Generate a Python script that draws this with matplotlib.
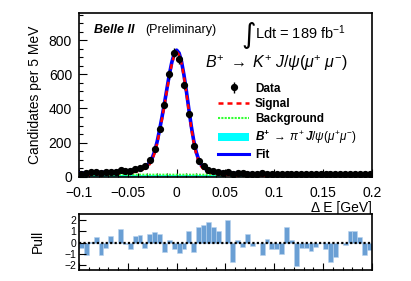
import numpy as np
import matplotlib
matplotlib.use("Agg")
import matplotlib.pyplot as plt
from matplotlib.ticker import MultipleLocator
from matplotlib.lines import Line2D
from matplotlib.patches import Patch

plt.rcParams['font.family'] = ['Liberation Sans', 'DejaVu Sans']
plt.rcParams['mathtext.fontset'] = 'custom'
plt.rcParams['mathtext.rm'] = 'Liberation Sans'
plt.rcParams['mathtext.it'] = 'Liberation Sans:italic'
plt.rcParams['mathtext.bf'] = 'Liberation Sans:bold:italic'

# ---------------- data ----------------
bin_edges_lo = -0.1
bin_width = 0.005
n_bins = 60
counts = [18, 22, 25, 28, 24, 28, 30, 29, 38, 34,
          33, 44, 52, 62, 98, 165, 280, 422, 600, 728,
          688, 535, 365, 178, 90, 60, 40, 32, 28, 24,
          26, 18, 20, 19, 17, 18, 16, 19, 17, 16,
          15, 18, 17, 16, 14, 17, 16, 15, 17, 16,
          15, 14, 16, 17, 15, 16, 18, 17, 14, 15]

fit_x = [-0.1, -0.09, -0.08, -0.07, -0.06, -0.05, -0.045, -0.04, -0.035, -0.03,
         -0.0275, -0.025, -0.0225, -0.02, -0.0175, -0.015, -0.0125, -0.01, -0.0075,
         -0.005, -0.0025, 0.0, 0.0025, 0.005, 0.0075, 0.01, 0.0125, 0.015, 0.0175,
         0.02, 0.0225, 0.025, 0.0275, 0.03, 0.035, 0.04, 0.05, 0.06, 0.08, 0.1,
         0.15, 0.2]
fit_y = [20, 22, 24, 27, 30, 34, 37, 42, 52, 68,
         85, 110, 150, 205, 275, 350, 430, 515, 600,
         670, 722, 742, 725, 675, 595, 500, 395, 295, 210,
         145, 100, 72, 55, 44, 33, 27, 22, 19, 17, 16,
         15, 14]
sig_y = [9, 11, 13, 16, 19, 23, 26, 31, 41, 57,
         74, 99, 139, 194, 264, 339, 419, 504, 589,
         659, 711, 731, 714, 664, 584, 489, 384, 284, 199,
         134, 89, 61, 44, 33, 22, 16, 11, 8, 6, 5,
         3, 2]
bkg_x = [-0.1, 0.2]
bkg_y = [12, 11]
pi_x = [-0.1, 0.2]
pi_y = [9, 9]

pulls = [-0.5, -1.1, 0.05, 0.5, -1.1, -0.45, 0.6, 0.0, 1.25, -0.15,
         -0.6, 0.6, 0.65, -0.45, 0.8, 0.95, 0.75, -0.85, 0.2, -0.6,
         -0.95, -0.6, 1.0, -0.8, 1.35, 1.55, 1.8, 1.4, 1.05, 0.0,
         2.0, -1.75, 0.2, -0.35, 0.8, -0.3, -0.05, -1.1, 0.3, -0.6,
         -0.55, -1.05, 1.35, 0.2, -2.05, -0.5, -0.5, -0.75, -0.4, 0.0,
         -0.6, -1.75, -1.3, 0.0, -0.2, 1.0, 1.0, 0.5, -1.1, -0.7]

centers = bin_edges_lo + bin_width * (np.arange(n_bins) + 0.5)
counts = np.array(counts, float)

# ---------------- figure ----------------
fig = plt.figure(figsize=(4.11, 2.81), dpi=100)
ax = fig.add_axes([0.1922, 0.3712, 0.9051 - 0.1922, 0.9537 - 0.3712])
axp = fig.add_axes([0.1922, 0.0391, 0.9051 - 0.1922, 0.2402 - 0.0391])

ax.fill_between(pi_x, 0, pi_y, color='#00ffff', lw=0, zorder=1)
ax.plot(bkg_x, bkg_y, color='#33ff33', ls=(0, (1, 0.6)), lw=1.5, zorder=2)
ax.plot(fit_x, fit_y, color='#0000ff', lw=2.6, zorder=3)
ax.plot(fit_x, sig_y, color='#ff0000', lw=1.8, ls=(0, (2, 1.6)), zorder=4)
eb = ax.errorbar(centers, counts, yerr=np.sqrt(counts), fmt='o', color='black',
                 ms=4.2, elinewidth=1, capsize=0, zorder=5)

ax.set_xlim(-0.1, 0.2)
ax.set_ylim(0, 960)
ax.xaxis.set_minor_locator(MultipleLocator(0.01))
ax.yaxis.set_major_locator(MultipleLocator(200))
ax.yaxis.set_minor_locator(MultipleLocator(50))
ax.set_xticks([-0.1, -0.05, 0, 0.05, 0.1, 0.15, 0.2])
ax.set_xticklabels(['\u22120.1', '\u22120.05', '0', '0.05', '0.1', '0.15', '0.2'])
ax.tick_params(which='both', direction='in', top=False, right=False, labelsize=10)
ax.tick_params(which='major', length=6, width=0.8)
ax.tick_params(which='minor', length=3, width=0.8)
ax.tick_params(axis='x', pad=6.5)
ax.tick_params(axis='y', pad=5)
for s in ax.spines.values():
    s.set_linewidth(1.2)
ax.set_ylabel('Candidates per 5 MeV', fontsize=10, labelpad=5)
ax.text(1.0, -0.15, '\u0394 E [GeV]', transform=ax.transAxes, ha='right', va='top', fontsize=10)

ax.text(0.05, 0.878, 'Belle II', transform=ax.transAxes, fontsize=9,
        fontweight='bold', fontstyle='italic', ha='left', va='baseline')
ax.text(0.225, 0.878, '(Preliminary)', transform=ax.transAxes, fontsize=9,
        ha='left', va='baseline')
ax.text(0.555, 0.865, '\u222b', transform=ax.transAxes, fontsize=20,
        family='DejaVu Sans', ha='left', va='center')
ax.text(0.60, 0.84, r'Ldt = 189 fb$^{-1}$', transform=ax.transAxes, fontsize=10.5,
        ha='left', va='baseline')
ax.text(0.43, 0.665, r'$B^{+}\;\rightarrow\; K^{+}\;J/\psi(\mu^{+}\;\mu^{-})$',
        transform=ax.transAxes, fontsize=11.5, ha='left', va='baseline')

handles = [
    eb,
    Line2D([], [], color='#ff0000', lw=1.8, ls=(0, (2, 1.6))),
    Line2D([], [], color='#33ff33', lw=1.5, ls=(0, (1, 0.6))),
    Patch(facecolor='#00ffff', edgecolor='none'),
    Line2D([], [], color='#0000ff', lw=2.2),
]
labels = ['Data', 'Signal', 'Background',
          r'$\mathbf{B^{+}}\;\rightarrow\;\pi^{+}\,\mathbf{J}/\psi(\mu^{+}\mu^{-})$', 'Fit']
leg = ax.legend(handles, labels, loc='upper left', bbox_to_anchor=(0.475, 0.575),
                frameon=False, prop={'weight': 'bold', 'size': 8.5},
                handlelength=2.6, handletextpad=0.5, labelspacing=0.28,
                borderaxespad=0, borderpad=0)

# pull
axp.bar(centers, pulls, width=bin_width, color='#6a9fd4', edgecolor='#b8d3ee', lw=0.4)
axp.axhline(0, color='black', ls=(0, (1, 1)), lw=1.6)
axp.set_xlim(-0.1, 0.2)
axp.set_ylim(-2.45, 2.6)
axp.yaxis.set_major_locator(MultipleLocator(1))
axp.xaxis.set_major_locator(MultipleLocator(0.05))
axp.xaxis.set_minor_locator(MultipleLocator(0.01))
axp.tick_params(which='both', direction='in', top=False, right=False, labelsize=7.5)
axp.tick_params(axis='x', labelbottom=False)
axp.tick_params(axis='y', pad=2)
axp.tick_params(which='major', length=5, width=0.8)
axp.tick_params(which='minor', length=2.5, width=0.8)
for s in axp.spines.values():
    s.set_linewidth(1.2)
axp.set_ylabel('Pull', fontsize=10, labelpad=14)

fig.savefig('out.png', dpi=100)
